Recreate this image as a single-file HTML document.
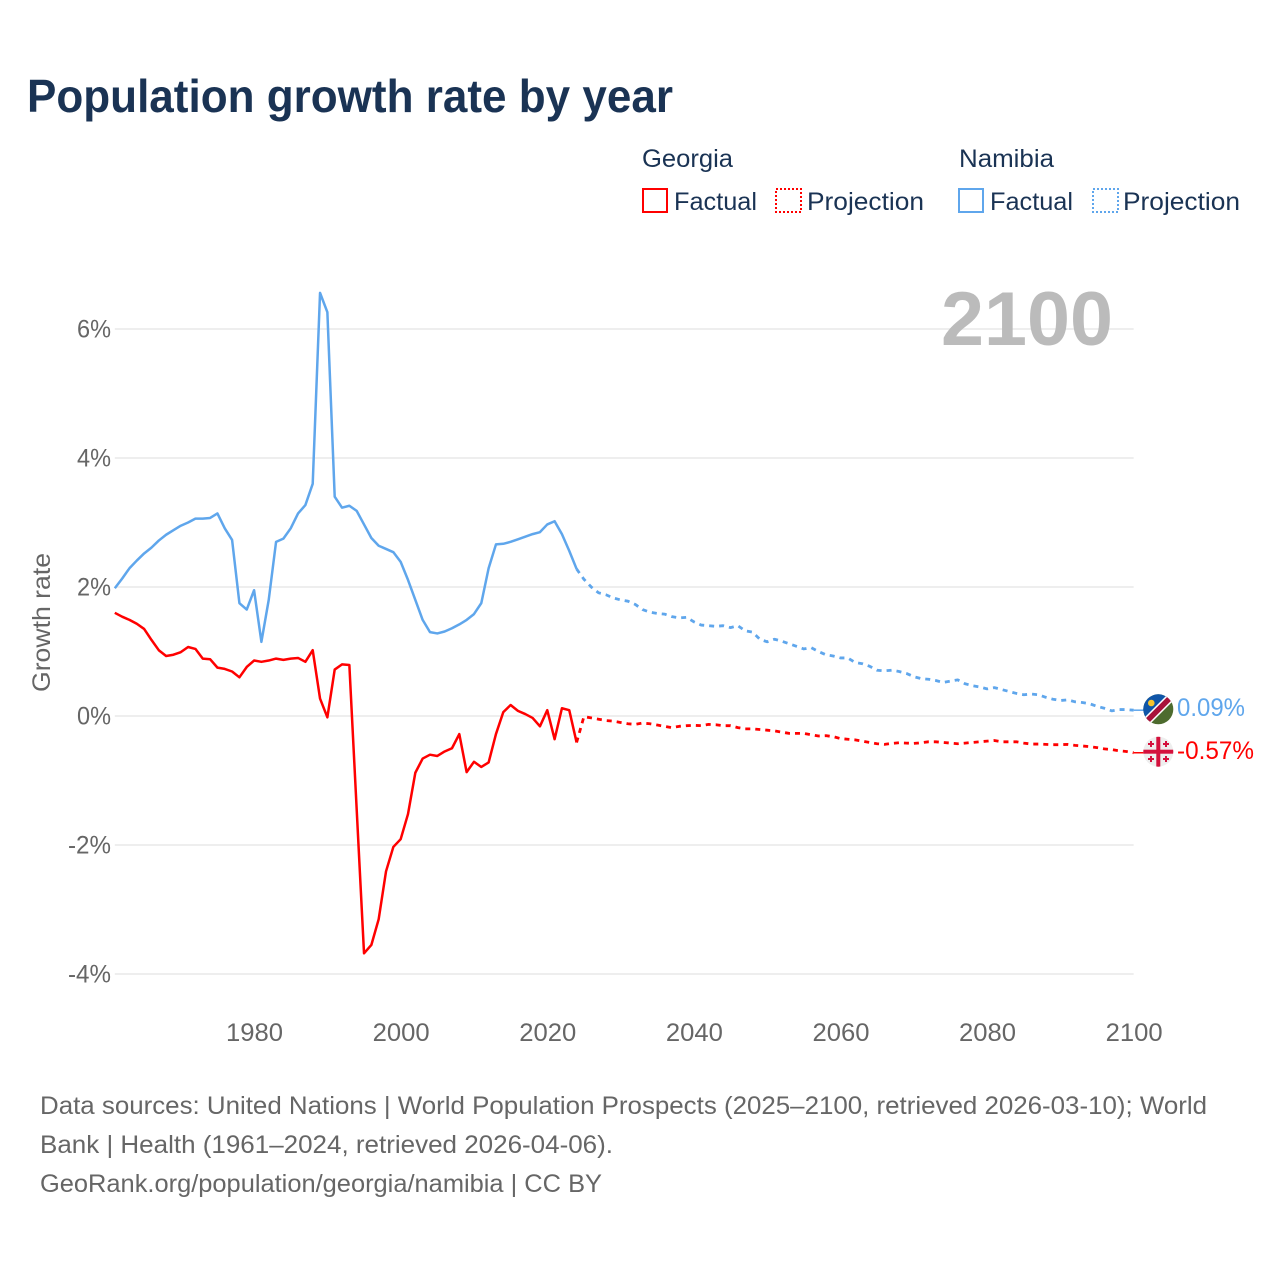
<!DOCTYPE html>
<html lang="en">
<head>
<meta charset="utf-8">
<title>Population growth rate by year</title>
<style>
html,body{margin:0;padding:0;background:#fff;}
svg{display:block;font-family:"Liberation Sans",Arial,sans-serif;}
</style>
</head>
<body>
<svg id="chart" xmlns="http://www.w3.org/2000/svg" width="1280" height="1280" viewBox="0 0 1280 1280">
  <rect x="0" y="0" width="1280" height="1280" fill="#ffffff"/>
  <text x="27" y="112" font-size="46" font-weight="700" fill="#1a3354" textLength="646" lengthAdjust="spacingAndGlyphs">Population growth rate by year</text>

  <g font-size="25" fill="#1a3354">
    <text x="642" y="167" textLength="91" lengthAdjust="spacingAndGlyphs">Georgia</text>
    <text x="959" y="167" textLength="95" lengthAdjust="spacingAndGlyphs">Namibia</text>
    <g>
      <rect x="643" y="189" width="24" height="23" fill="none" stroke="#ff0000" stroke-width="2"/>
      <text x="674" y="210" textLength="83" lengthAdjust="spacingAndGlyphs">Factual</text>
    </g>
    <g>
      <rect x="776" y="189" width="25" height="23" fill="none" stroke="#ff0000" stroke-width="2" stroke-dasharray="2 2"/>
      <text x="807" y="210" textLength="117" lengthAdjust="spacingAndGlyphs">Projection</text>
    </g>
    <g>
      <rect x="959" y="189" width="24" height="23" fill="none" stroke="#5fa6ec" stroke-width="2"/>
      <text x="990" y="210" textLength="83" lengthAdjust="spacingAndGlyphs">Factual</text>
    </g>
    <g>
      <rect x="1093" y="189" width="25" height="23" fill="none" stroke="#5fa6ec" stroke-width="2" stroke-dasharray="2 2"/>
      <text x="1123" y="210" textLength="117" lengthAdjust="spacingAndGlyphs">Projection</text>
    </g>
  </g>

  <g id="grid"></g>
  <g id="yticks" font-size="25" fill="#666666"></g>
  <g id="xticks" font-size="25" fill="#666666"></g>
  <text transform="translate(50,692) rotate(-90)" x="0" y="0" font-size="25" fill="#666666" textLength="139" lengthAdjust="spacingAndGlyphs">Growth rate</text>
  <text x="941" y="345" font-size="76" font-weight="700" fill="#bbbbbb" textLength="172" lengthAdjust="spacingAndGlyphs">2100</text>

  <g id="series"></g>

  <g>
    <clipPath id="clip-na"><circle cx="1158.3" cy="709.3" r="15"/></clipPath>
    <g clip-path="url(#clip-na)">
      <rect x="1143" y="694" width="31" height="31" fill="#4d6b2e"/>
      <polygon points="1143,694 1174,694 1143,725" fill="#0f55a8"/>
      <line x1="1141" y1="727" x2="1176" y2="692" stroke="#ffffff" stroke-width="8.500"/>
      <line x1="1141" y1="727" x2="1176" y2="692" stroke="#a8123a" stroke-width="5.500"/>
      <circle cx="1151.3" cy="703" r="3.300" fill="#f7c52d"/>
    </g>
  </g>
  <g>
    <clipPath id="clip-ge"><circle cx="1158.3" cy="751.7" r="15"/></clipPath>
    <g clip-path="url(#clip-ge)">
      <rect x="1143" y="736" width="31" height="31" fill="#eeeeee"/>
      <rect x="1156.300" y="736" width="4" height="31" fill="#d4103c"/>
      <rect x="1143" y="749.700" width="31" height="4" fill="#d4103c"/>
      <g fill="#d4103c">
        <rect x="1150" y="741" width="2" height="6"/><rect x="1148" y="743" width="6" height="2"/>
        <rect x="1165" y="741" width="2" height="6"/><rect x="1163" y="743" width="6" height="2"/>
        <rect x="1150" y="756" width="2" height="6"/><rect x="1148" y="758" width="6" height="2"/>
        <rect x="1165" y="756" width="2" height="6"/><rect x="1163" y="758" width="6" height="2"/>
      </g>
    </g>
  </g>
  <text x="1177" y="716" font-size="25" fill="#5fa6ec" textLength="68" lengthAdjust="spacingAndGlyphs">0.09%</text>
  <text x="1177" y="759" font-size="25" fill="#ff0000" textLength="77" lengthAdjust="spacingAndGlyphs">-0.57%</text>

  <g font-size="25" fill="#666666">
    <text x="40" y="1114" textLength="1167" lengthAdjust="spacingAndGlyphs">Data sources: United Nations | World Population Prospects (2025–2100, retrieved 2026-03-10); World</text>
    <text x="40" y="1153" textLength="573" lengthAdjust="spacingAndGlyphs">Bank | Health (1961–2024, retrieved 2026-04-06).</text>
    <text x="40" y="1192" textLength="562" lengthAdjust="spacingAndGlyphs">GeoRank.org/population/georgia/namibia | CC BY</text>
  </g>
</svg>
<script>
const factualStartYear = 1961;
const projectionStartYear = 2024;
const xTickYears = [1980, 2000, 2020, 2040, 2060, 2080, 2100];
const yTickValues = [6, 4, 2, 0, -2, -4];
const georgiaFactual = [1.60,1.54,1.49,1.43,1.35,1.18,1.02,0.93,0.95,0.99,1.07,1.04,0.89,0.88,0.75,0.73,0.69,0.60,0.76,0.86,0.84,0.86,0.89,0.87,0.89,0.90,0.84,1.02,0.27,-0.02,0.72,0.80,0.79,-1.45,-3.68,-3.55,-3.15,-2.41,-2.03,-1.91,-1.52,-0.88,-0.66,-0.60,-0.62,-0.55,-0.50,-0.28,-0.87,-0.71,-0.79,-0.72,-0.28,0.06,0.17,0.08,0.03,-0.03,-0.16,0.09,-0.36,0.12,0.09,-0.41];
const georgiaProjection = [-0.41,-0.01,-0.03,-0.05,-0.07,-0.08,-0.10,-0.12,-0.13,-0.11,-0.12,-0.14,-0.16,-0.18,-0.16,-0.15,-0.145,-0.15,-0.13,-0.135,-0.15,-0.15,-0.18,-0.20,-0.20,-0.21,-0.22,-0.23,-0.25,-0.27,-0.27,-0.27,-0.29,-0.31,-0.305,-0.32,-0.35,-0.36,-0.37,-0.39,-0.41,-0.43,-0.44,-0.425,-0.415,-0.42,-0.425,-0.415,-0.40,-0.40,-0.41,-0.42,-0.43,-0.42,-0.41,-0.40,-0.39,-0.38,-0.40,-0.40,-0.40,-0.42,-0.435,-0.435,-0.44,-0.445,-0.445,-0.44,-0.455,-0.465,-0.475,-0.49,-0.51,-0.52,-0.54,-0.55,-0.57];
const namibiaFactual = [1.98,2.13,2.29,2.41,2.52,2.61,2.72,2.81,2.88,2.95,3.00,3.06,3.06,3.07,3.14,2.91,2.73,1.75,1.65,1.95,1.15,1.80,2.70,2.75,2.91,3.14,3.27,3.60,6.56,6.26,3.40,3.23,3.26,3.18,2.97,2.76,2.64,2.59,2.54,2.39,2.11,1.80,1.49,1.30,1.28,1.31,1.36,1.42,1.49,1.58,1.75,2.29,2.66,2.67,2.70,2.74,2.78,2.82,2.85,2.97,3.02,2.82,2.56,2.28];
const namibiaProjection = [2.28,2.12,2.00,1.91,1.88,1.83,1.80,1.78,1.73,1.65,1.61,1.59,1.58,1.54,1.52,1.53,1.46,1.41,1.40,1.39,1.40,1.37,1.40,1.32,1.30,1.19,1.15,1.19,1.16,1.12,1.08,1.04,1.06,1.00,0.95,0.93,0.90,0.90,0.83,0.81,0.77,0.71,0.70,0.71,0.69,0.66,0.61,0.58,0.57,0.55,0.52,0.54,0.56,0.50,0.47,0.45,0.42,0.44,0.41,0.38,0.35,0.33,0.34,0.33,0.29,0.26,0.24,0.25,0.22,0.21,0.19,0.15,0.12,0.08,0.10,0.10,0.09];

const SVG_NS = 'http://www.w3.org/2000/svg';
const RED = '#ff0000';
const BLUE = '#5fa6ec';
function xScale(year) { return 114.8 + (year - 1961) * 7.33; }
function yScale(value) { return 716 - value * 64.5; }
function pathFor(values, startYear) {
  return values.map(function (v, i) {
    return (i ? 'L' : 'M') + xScale(startYear + i).toFixed(2) + ' ' + yScale(v).toFixed(2);
  }).join(' ');
}

const gridGroup = document.getElementById('grid');
const yTickGroup = document.getElementById('yticks');
yTickValues.forEach(function (v) {
  const line = document.createElementNS(SVG_NS, 'line');
  
  
  line.setAttribute('x1', xScale(1961));
  line.setAttribute('x2', xScale(2100));
  line.setAttribute('y1', yScale(v));
  line.setAttribute('y2', yScale(v));
  line.setAttribute('stroke', '#eeeeee');
  line.setAttribute('stroke-width', '2');
  gridGroup.appendChild(line);

  const label = document.createElementNS(SVG_NS, 'text');
  
  
  label.setAttribute('x', v < 0 ? 68 : 77);
  label.setAttribute('y', yScale(v) + 8.500);
  label.setAttribute('textLength', v < 0 ? 43 : 34);
  label.setAttribute('lengthAdjust', 'spacingAndGlyphs');
  label.textContent = v + '%';
  yTickGroup.appendChild(label);
});

const xTickGroup = document.getElementById('xticks');
xTickYears.forEach(function (year) {
  const label = document.createElementNS(SVG_NS, 'text');
  
  
  label.setAttribute('x', xScale(year) - 28);
  label.setAttribute('y', 1041);
  label.setAttribute('textLength', 57);
  label.setAttribute('lengthAdjust', 'spacingAndGlyphs');
  label.textContent = String(year);
  xTickGroup.appendChild(label);
});

const seriesGroup = document.getElementById('series');
function addLine(name, d, color, dashed) {
  const p = document.createElementNS(SVG_NS, 'path');
  
  
  p.setAttribute('d', d);
  p.setAttribute('fill', 'none');
  p.setAttribute('stroke', color);
  p.setAttribute('stroke-width', dashed ? '2.8' : '2.5');
  p.setAttribute('stroke-linejoin', 'round');
  if (dashed) { p.setAttribute('stroke-dasharray', '5 5'); }
  seriesGroup.appendChild(p);
}
function addConnector(name, value, color) {
  const c = document.createElementNS(SVG_NS, 'line');
  
  
  c.setAttribute('x1', xScale(2100));
  c.setAttribute('x2', 1144);
  c.setAttribute('y1', yScale(value));
  c.setAttribute('y2', yScale(value));
  c.setAttribute('stroke', color);
  c.setAttribute('stroke-width', '1.500');
  seriesGroup.appendChild(c);
}
addLine('namibia-factual-line', pathFor(namibiaFactual, factualStartYear), BLUE, false);
addLine('namibia-projection-line', pathFor(namibiaProjection, projectionStartYear), BLUE, true);
addLine('georgia-factual-line', pathFor(georgiaFactual, factualStartYear), RED, false);
addLine('georgia-projection-line', pathFor(georgiaProjection, projectionStartYear), RED, true);
addConnector('namibia-end-connector', namibiaProjection[namibiaProjection.length - 1], BLUE);
addConnector('georgia-end-connector', georgiaProjection[georgiaProjection.length - 1], RED);
</script>
</body>
</html>
